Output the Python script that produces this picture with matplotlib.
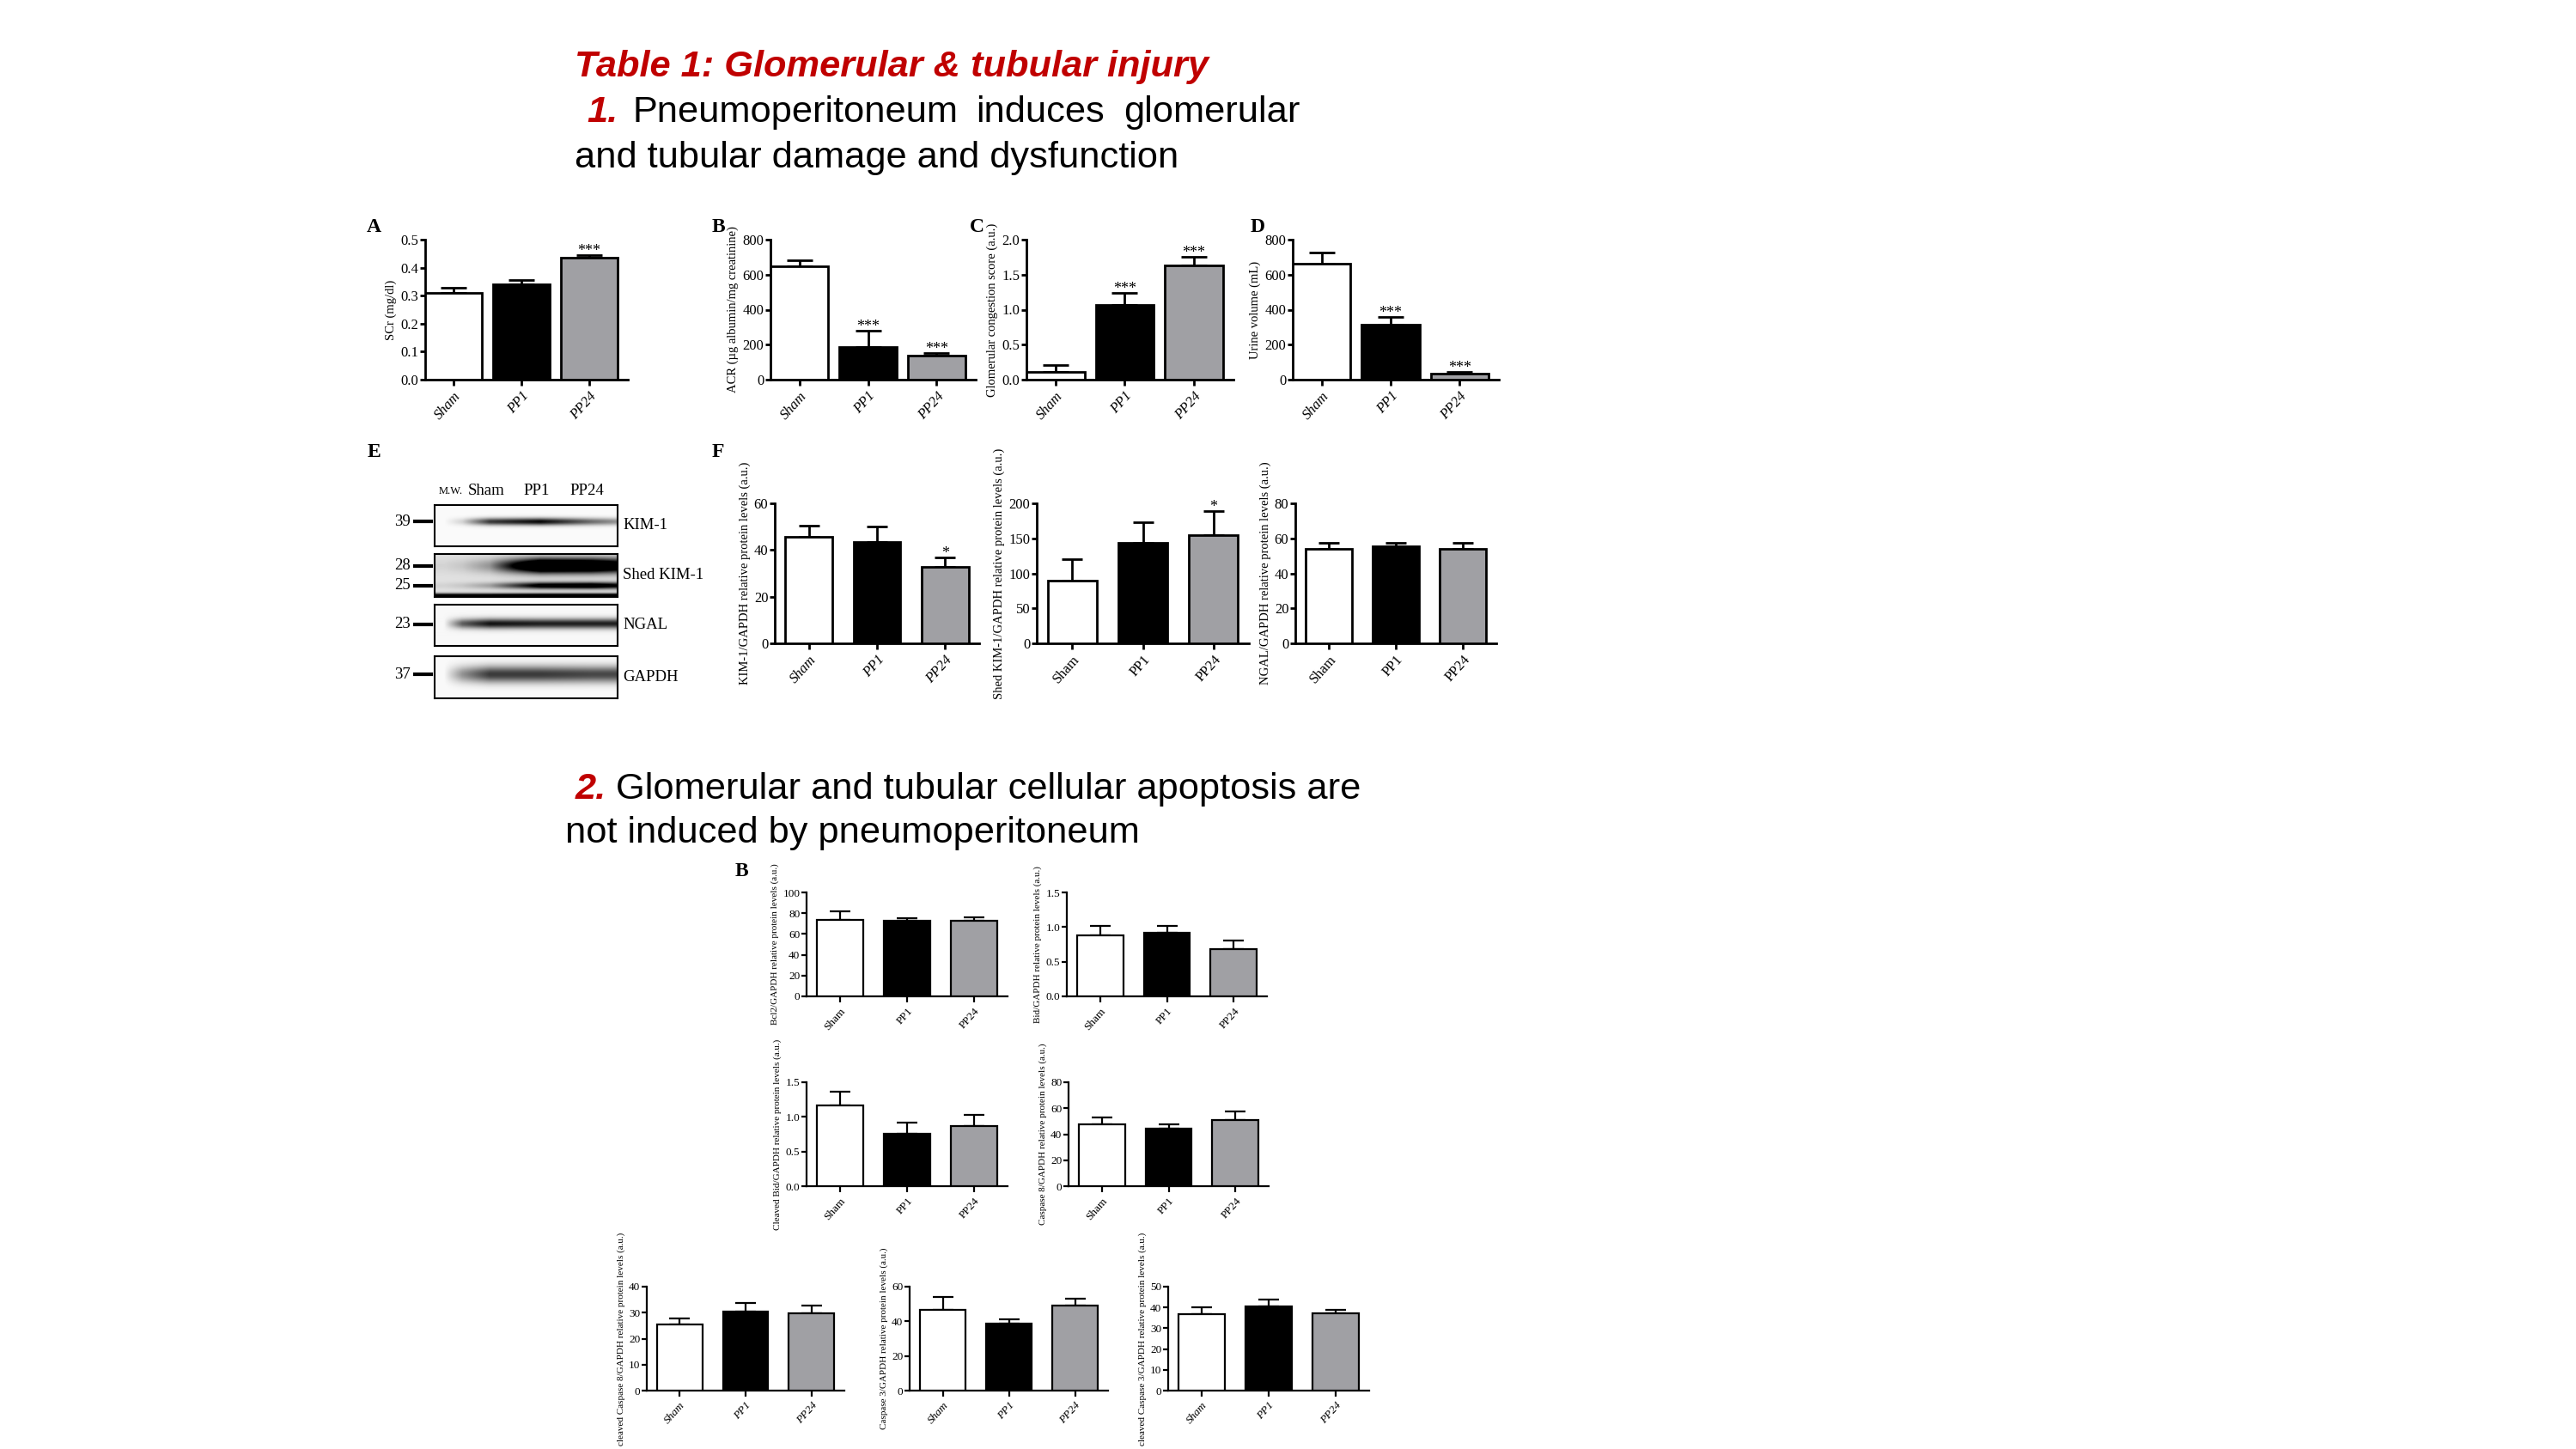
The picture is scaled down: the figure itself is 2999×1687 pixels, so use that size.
import numpy as np
import matplotlib
matplotlib.use('Agg')
from matplotlib import pyplot as plt
from matplotlib.lines import Line2D

W, H = 2999, 1687
DPI = 100
plt.rcParams['font.family'] = 'Liberation Serif'

groups = ['Sham', 'PP1', 'PP24']
bar_colors = ['white', 'black', '#a0a0a4']

# section 1, panels A-D
scr = [0.311, 0.342, 0.435]
scr_err = [0.018, 0.015, 0.010]
acr = [648, 188, 139]
acr_err = [34, 90, 15]
glom = [0.114, 1.07, 1.63]
glom_err = [0.09, 0.175, 0.125]
urine = [663, 315, 33]
urine_err = [65, 41, 13]

# panel F
kim1 = [45.7, 43.6, 32.8]
kim1_err = [4.8, 6.6, 3.9]
shed = [89, 144, 155]
shed_err = [31, 29, 34]
ngal = [54, 55.5, 53.8]
ngal_err = [3.3, 1.8, 3.6]

# section 2
bcl2 = [73.8, 73, 72.7]
bcl2_err = [8.2, 2, 3.6]
bid = [0.875, 0.92, 0.68]
bid_err = [0.137, 0.10, 0.125]
cbid = [1.16, 0.757, 0.864]
cbid_err = [0.206, 0.163, 0.169]
casp8 = [47.5, 44.2, 50.6]
casp8_err = [5.3, 3.3, 7.1]
ccasp8 = [25.3, 30.5, 29.6]
ccasp8_err = [2.4, 3.3, 3.0]
casp3 = [46.6, 38.7, 48.9]
casp3_err = [7.4, 2.3, 4.2]
ccasp3 = [36.6, 40.5, 37]
ccasp3_err = [3.3, 3.2, 1.8]

# western blot (E): band rows as (centre, thickness, lane darkness)
lane_x = [0.05, 0.15, 0.30, 0.58, 0.86, 1.0]
blot_names = ['KIM-1', 'Shed KIM-1', 'NGAL', 'GAPDH']
blot_bands = [
    [(0.40, 0.09, [0, 0.15, 0.75, 0.95, 0.55, 0.4])],
    [(0.27, 0.17, [0.05, 0.1, 0.3, 1.6, 1.5, 1.2]),
     (0.74, 0.08, [0.05, 0.1, 0.25, 1.0, 1.1, 0.9]),
     (0.97, 0.05, [0.9, 0.9, 0.9, 1.0, 1.0, 1.0])],
    [(0.47, 0.12, [0, 0.6, 0.9, 0.85, 0.85, 0.85])],
    [(0.43, 0.20, [0, 0.4, 0.75, 0.75, 0.7, 0.7])],
]
blot_bg = [0.02, 0.12, 0.03, 0.02]
mw_marks = [[('39', 0.40)], [('28', 0.27), ('25', 0.74)], [('23', 0.47)], [('37', 0.43)]]

fig = plt.figure(figsize=(W / DPI, H / DPI), dpi=DPI)
fig.patch.set_facecolor('white')


def px_axes(x0, y0, x1, y1):
    return fig.add_axes([x0 / W, 1 - y1 / H, (x1 - x0) / W, (y1 - y0) / H])


def bar_panel(box, means, errs, ymax, ystep, ylabel, fmt='{:.0f}', stars=None,
              italic=False, width=0.69, left=-0.5, right=2.5, tick_fs=12,
              xlab_fs=12, lab_fs=10.5, lw=2.0, star_fs=13):
    ax = px_axes(*box)
    x = np.arange(len(means))
    ax.bar(x, means, width, color=bar_colors, edgecolor='black', linewidth=lw, zorder=3)
    bar_px = width / (right - left) * (box[2] - box[0])
    cap = 0.22 * bar_px * 72 / DPI
    ax.errorbar(x, means, yerr=[np.zeros(len(means)), errs], fmt='none', ecolor='black',
                elinewidth=lw, capsize=cap, capthick=lw, zorder=2)
    ax.set_xlim(left, right)
    ax.set_ylim(0, ymax)
    yt = np.arange(0, ymax + ystep / 2, ystep)
    ax.set_yticks(yt, [fmt.format(v) for v in yt])
    ax.set_xticks(x, groups, rotation=48, ha='right', rotation_mode='anchor',
                  fontstyle='italic' if italic else 'normal', fontsize=xlab_fs)
    for s in ['top', 'right']:
        ax.spines[s].set_visible(False)
    for s in ['left', 'bottom']:
        ax.spines[s].set_linewidth(lw)
    ax.tick_params(axis='y', direction='out', length=4, width=lw, labelsize=tick_fs, pad=1.5)
    ax.tick_params(axis='x', direction='out', length=5, width=lw, pad=3)
    ax.set_ylabel(ylabel, fontsize=lab_fs, labelpad=3)
    if stars:
        for i, s in enumerate(stars):
            if s:
                ax.text(i, means[i] + errs[i], s, ha='center', va='baseline',
                        fontsize=star_fs, clip_on=False)
    return ax


def panel_letter(x, y, s):
    fig.text(x / W, 1 - y / H, s, fontsize=17, fontweight='bold', ha='center', va='center')


# ---- headings ----
sans = 'Liberation Sans'
red = '#c00000'
hfs = 31.2
fig.text(669 / W, 1 - 89 / H, 'Table 1: Glomerular & tubular injury', family=sans,
         fontsize=hfs, color=red, fontweight='bold', fontstyle='italic', va='baseline')
fig.text(683 / W, 1 - 142 / H, '1.', family=sans, fontsize=hfs, color=red,
         fontweight='bold', fontstyle='italic', va='baseline')
for wx, word in [(737, 'Pneumoperitoneum'), (1136, 'induces'), (1308, 'glomerular')]:
    fig.text(wx / W, 1 - 142 / H, word, family=sans, fontsize=hfs, va='baseline')
fig.text(669 / W, 1 - 195 / H, 'and tubular damage and dysfunction', family=sans,
         fontsize=hfs, va='baseline')
fig.text(670 / W, 1 - 930 / H, '2.', family=sans, fontsize=hfs, color=red,
         fontweight='bold', fontstyle='italic', va='baseline')
fig.text(717 / W, 1 - 930 / H, 'Glomerular and tubular cellular apoptosis are',
         family=sans, fontsize=hfs, va='baseline')
fig.text(658 / W, 1 - 981 / H, 'not induced by pneumoperitoneum', family=sans,
         fontsize=hfs, va='baseline')

# ---- panels A-D ----
top = dict(width=0.84, left=-0.42, right=2.57, italic=True)
bar_panel((495, 279, 731, 442), scr, scr_err, 0.5, 0.1, 'SCr (mg/dl)', fmt='{:.1f}',
          stars=['', '', '***'], **top)
bar_panel((897, 279, 1136, 442), acr, acr_err, 800, 200, 'ACR (\u00b5g albumin/mg creatinine)',
          stars=['', '***', '***'], **top)
bar_panel((1195, 279, 1436, 442), glom, glom_err, 2.0, 0.5, 'Glomerular congestion score (a.u.)',
          fmt='{:.1f}', stars=['', '***', '***'], **top)
bar_panel((1505, 279, 1745, 442), urine, urine_err, 800, 200, 'Urine volume (mL)',
          stars=['', '***', '***'], **top)
panel_letter(435, 265, 'A')
panel_letter(836, 265, 'B')
panel_letter(1137, 265, 'C')
panel_letter(1464, 265, 'D')

# ---- panel E: western blot ----
panel_letter(435, 526, 'E')
blot_rows = [(588, 636), (645, 695), (704, 752), (764, 813)]
bx0, bx1 = 506, 719
xs = np.linspace(0, 1, bx1 - bx0)
for (y0, y1), bands, bg, name, marks in zip(blot_rows, blot_bands, blot_bg, blot_names, mw_marks):
    ax = px_axes(bx0, y0, bx1, y1)
    ys = np.linspace(0, 1, y1 - y0)[:, None]
    img = np.full((y1 - y0, bx1 - bx0), bg)
    for yc, th, vals in bands:
        prof = np.interp(xs, lane_x, vals)
        img = img + prof[None, :] * np.exp(-((ys - yc) / th) ** 2)
    ax.imshow(np.clip(img, 0, 1), cmap='gray_r', vmin=0, vmax=1, aspect='auto',
              interpolation='bilinear', extent=(0, 1, 1, 0))
    ax.set_xticks([])
    ax.set_yticks([])
    for s in ax.spines.values():
        s.set_linewidth(1.5)
    fig.text((bx1 + 6) / W, 1 - ((y0 + y1) / 2) / H, name, fontsize=13.5, va='center')
    for lab, frac in marks:
        yy = y0 + frac * (y1 - y0)
        fig.text(478 / W, 1 - yy / H, lab, fontsize=13.5, ha='right', va='center')
        fig.add_artist(Line2D([483 / W, 502 / W], [1 - yy / H, 1 - yy / H], color='black', lw=3))
fig.text(511 / W, 1 - 572 / H, 'M.W.', fontsize=9, va='center')
for cx, lab in [(566, 'Sham'), (625, 'PP1'), (683, 'PP24')]:
    fig.text(cx / W, 1 - 572 / H, lab, fontsize=13.5, ha='center', va='center')

# ---- panel F ----
panel_letter(836, 526, 'F')
bar_panel((902, 586, 1140, 749), kim1, kim1_err, 60, 20, 'KIM-1/GAPDH relative protein levels (a.u.)',
          stars=['', '', '*'], italic=True)
bar_panel((1207, 586, 1454, 749), shed, shed_err, 200, 50,
          'Shed KIM-1/GAPDH relative protein levels (a.u.)', stars=['', '', '*'])
bar_panel((1508, 586, 1742, 749), ngal, ngal_err, 80, 20, 'NGAL/GAPDH relative protein levels (a.u.)')

# ---- section 2 ----
panel_letter(863, 1014, 'B')
small = dict(tick_fs=9.5, xlab_fs=9.5, lab_fs=8, lw=1.6)
bar_panel((939, 1039, 1173, 1160), bcl2, bcl2_err, 100, 20,
          'Bcl2/GAPDH relative protein levels (a.u.)', **small)
bar_panel((1242, 1039, 1475, 1160), bid, bid_err, 1.5, 0.5,
          'Bid/GAPDH relative protein levels (a.u.)', fmt='{:.1f}', **small)
bar_panel((939, 1260, 1173, 1381), cbid, cbid_err, 1.5, 0.5,
          'Cleaved Bid/GAPDH relative protein levels (a.u.)', fmt='{:.1f}', **small)
bar_panel((1244, 1260, 1477, 1381), casp8, casp8_err, 80, 20,
          'Caspase 8/GAPDH relative protein levels (a.u.)', **small)
bar_panel((753, 1498, 983, 1619), ccasp8, ccasp8_err, 40, 10,
          'cleaved Caspase 8/GAPDH relative protein levels (a.u.)', italic=True, **small)
bar_panel((1059, 1498, 1290, 1619), casp3, casp3_err, 60, 20,
          'Caspase 3/GAPDH relative protein levels (a.u.)', italic=True, **small)
bar_panel((1360, 1498, 1594, 1619), ccasp3, ccasp3_err, 50, 10,
          'cleaved Caspase 3/GAPDH relative protein levels (a.u.)', italic=True, **small)

fig.savefig('out.png', dpi=DPI, facecolor='white')
